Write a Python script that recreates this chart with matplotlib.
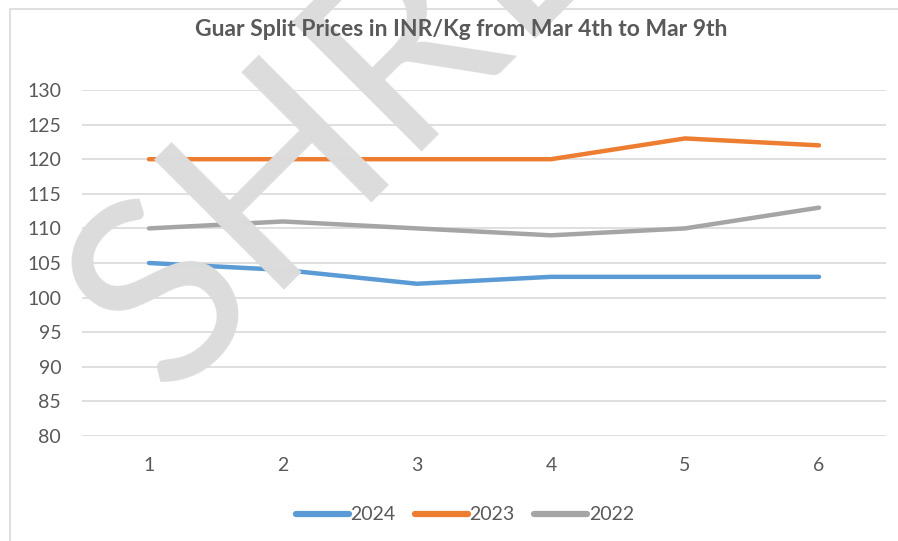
import matplotlib
matplotlib.use("Agg")
import matplotlib.pyplot as plt
from matplotlib.patches import Rectangle

days = [1, 2, 3, 4, 5, 6]
s2024 = [105, 104, 102, 103, 103, 103]
s2023 = [120, 120, 120, 120, 123, 122]
s2022 = [110, 111, 110, 109, 110, 113]
yticks = [80, 85, 90, 95, 100, 105, 110, 115, 120, 125, 130]
title = "Guar Split Prices in INR/Kg from Mar 4th to Mar 9th"
watermark = "SHRE"

plt.rcParams['font.family'] = ['Lato', 'DejaVu Sans']
W, H = 898, 541
fig = plt.figure(figsize=(W / 100, H / 100), dpi=100)
ax = fig.add_axes([82 / W, 1 - 436 / H, (886 - 82) / W, (436 - 90) / H])

# chart border
fig.patches.append(Rectangle((10 / W, -0.1), 1.2, 1 - 9 / H + 0.1, transform=fig.transFigure,
                             fill=False, edgecolor='#d9d9d9', linewidth=1.2))

# watermark
fig.text(168 / W, 1 - 398 / H, watermark, fontsize=184, color='#dcdcdc', rotation=45,
         rotation_mode='anchor', ha='left', va='baseline', zorder=1)

ax.set_facecolor('none')
ax.set_xlim(0.5, 6.5)
ax.set_ylim(80, 130)
ax.set_yticks(yticks)
ax.set_xticks(days)
ax.yaxis.grid(True, color='#d9d9d9', linewidth=1.2)
ax.set_axisbelow(True)
for sp in ax.spines.values():
    sp.set_visible(False)
ax.tick_params(length=0, labelsize=14, colors='#595959')
ax.tick_params(axis='x', pad=15)
ax.tick_params(axis='y', pad=15)

lw = 3.2
ax.plot(days, s2024, color='#5b9bd5', lw=lw, solid_capstyle='round', label='2024', zorder=3)
ax.plot(days, s2023, color='#ed7d31', lw=lw, solid_capstyle='round', label='2023', zorder=3)
ax.plot(days, s2022, color='#a5a5a5', lw=lw, solid_capstyle='round', label='2022', zorder=3)

fig.suptitle(title, x=461 / W, y=1 - 30 / H, va='center', fontsize=16.5, fontweight='bold', color='#595959')

leg = fig.legend(loc='center', bbox_to_anchor=(465 / W, 1 - 515 / H), ncol=3, frameon=False,
                 fontsize=14, handlelength=2.7, handletextpad=0.1, columnspacing=1.0)
for t in leg.get_texts():
    t.set_color('#595959')
for l in leg.get_lines():
    l.set_linewidth(4.5)
    l.set_solid_capstyle('round')

fig.savefig("out.png", dpi=100)
